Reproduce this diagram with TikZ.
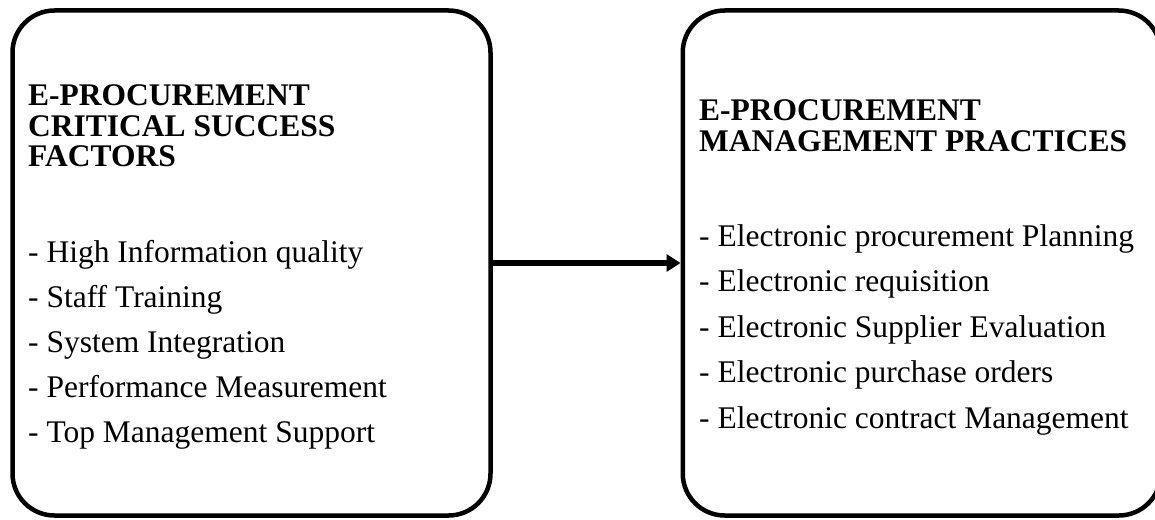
\documentclass[tikz,border=0pt]{standalone}
\usepackage{fontspec}
\setmainfont{Liberation Serif}
\usetikzlibrary{arrows.meta}
\begin{document}
\begin{tikzpicture}[x=1pt,y=-1pt,
  panel/.style={draw, line width=4.5pt, rounded corners=42pt,
    minimum width=478pt, minimum height=505pt, inner sep=0pt},
  heading/.style={anchor=base west, inner sep=0pt,
    font=\bfseries\fontsize{31.5}{31.5}\selectfont},
  item/.style={anchor=base west, inner sep=0pt,
    font=\fontsize{31.5}{31.5}\selectfont},
  link/.style={line width=6pt, -{Triangle[length=14pt,width=17pt]}}]
\useasboundingbox (0,0) rectangle (1155,519);

% the two panels
\node[panel] (L) at (251.5,263) {};
\node[panel] (R) at (921.75,263) {};

% left panel: critical success factors
\node[heading] (lh1) at (28,105.5) {E-PROCUREMENT};
\node[heading] (lh2) at (28,136)   {CRITICAL SUCCESS};
\node[heading] (lh3) at (28,166.5) {FACTORS};
\foreach \t [count=\i from 0] in {High Information quality, Staff Training,
    System Integration, Performance Measurement, Top Management Support}
  \node[item] (lb\i) at (28,262+45*\i) {- \t};

% right panel: management practices
\node[heading] (rh1) at (699,120.5) {E-PROCUREMENT};
\node[heading] (rh2) at (699,151.5) {MANAGEMENT PRACTICES};
\foreach \t [count=\i from 0] in {Electronic procurement Planning,
    Electronic requisition, Electronic Supplier Evaluation,
    Electronic purchase orders, Electronic contract Management}
  \node[item] (rb\i) at (699,246+45.5*\i) {- \t};

% connector
\draw[link] (L.east) -- (R.west);
\end{tikzpicture}
\end{document}
